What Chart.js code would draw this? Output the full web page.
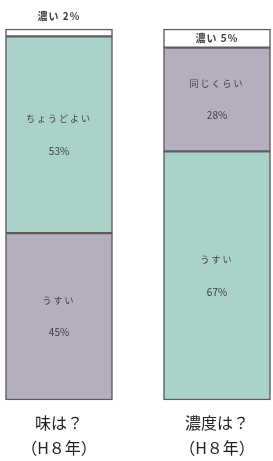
<!DOCTYPE html>
<html>
<head>
<meta charset="utf-8">
<script src="https://cdn.jsdelivr.net/npm/chart.js@4/dist/chart.umd.min.js"></script>
<style>
  html, body { margin: 0; padding: 0; background: #fff; }
  #wrap { width: 273px; height: 461px; }
</style>
</head>
<body>
<div id="wrap"><canvas id="tasteChart"></canvas></div>
<script>
const questions = [["味は？", "（H８年）"], ["濃度は？", "（H８年）"]];

// stacked from the bottom up
const bottomNames = ["うすい", "うすい"];
const bottomValues = [45, 67];
const middleNames = ["ちょうどよい", "同じくらい"];
const middleValues = [53, 28];
const topNames = ["濃い", "濃い"];
const topValues = [2, 5];

const teal = "#a8d2ca";
const purple = "#b5aebf";

// draws the names and percents on each segment
const segmentLabels = {
    id: "segmentLabels",
    afterDatasetsDraw(chart) {
        const ctx = chart.ctx;
        ctx.save();
        ctx.fillStyle = "#3c3c3c";
        ctx.textAlign = "center";
        ctx.textBaseline = "middle";
        chart.data.datasets.forEach((ds, i) => {
            const meta = chart.getDatasetMeta(i);
            meta.data.forEach((bar, j) => {
                const mid = (bar.y + bar.base) / 2;
                if (i === 2) {
                    ctx.font = "bold 10px 'Noto Sans CJK JP'";
                    ctx.letterSpacing = "1px";
                    // the 2% piece is too thin, so its label sits above the bar
                    const y = ds.data[j] < 4 ? bar.y - 13 : mid;
                    ctx.fillText(ds.names[j] + " " + ds.data[j] + "%", bar.x, y);
                } else {
                    ctx.font = "9px 'Noto Sans CJK JP'";
                    ctx.letterSpacing = "2px";
                    ctx.fillText(ds.names[j], bar.x, mid - 16);
                    ctx.letterSpacing = "0px";
                    ctx.font = "10px 'Noto Sans CJK JP'";
                    ctx.fillText(ds.data[j] + "%", bar.x, mid + 16);
                }
            });
        });
        ctx.restore();
    }
};

const common = {
    borderColor: "#5c5c5c",
    borderWidth: 1.5,
    borderSkipped: false,
    barThickness: 107,
    clip: false
};

new Chart(document.getElementById("tasteChart"), {
    type: "bar",
    data: {
        labels: questions,
        datasets: [
            { ...common, names: bottomNames, data: bottomValues, backgroundColor: [purple, teal] },
            { ...common, names: middleNames, data: middleValues, backgroundColor: [teal, purple] },
            { ...common, names: topNames, data: topValues, backgroundColor: "#ffffff" }
        ]
    },
    options: {
        responsive: true,
        maintainAspectRatio: false,
        animation: false,
        layout: { padding: { left: 59, right: 56, top: 29, bottom: 3 } },
        plugins: {
            legend: { display: false },
            tooltip: { enabled: false }
        },
        scales: {
            x: {
                stacked: true,
                offset: false, // centers on the edges so the bars can sit wide apart
                grid: { display: false },
                border: { display: false },
                afterFit(axis) { axis.height = 58; }, // keeps the plot bottom near y=400
                ticks: {
                    color: "#222",
                    padding: 3,
                    maxRotation: 0,
                    autoSkip: false,
                    font: { family: "'Noto Sans CJK JP'", size: 16, lineHeight: 1.55 }
                }
            },
            y: {
                stacked: true,
                display: false,
                min: 0,
                max: 100
            }
        }
    },
    plugins: [segmentLabels]
});
</script>
</body>
</html>
